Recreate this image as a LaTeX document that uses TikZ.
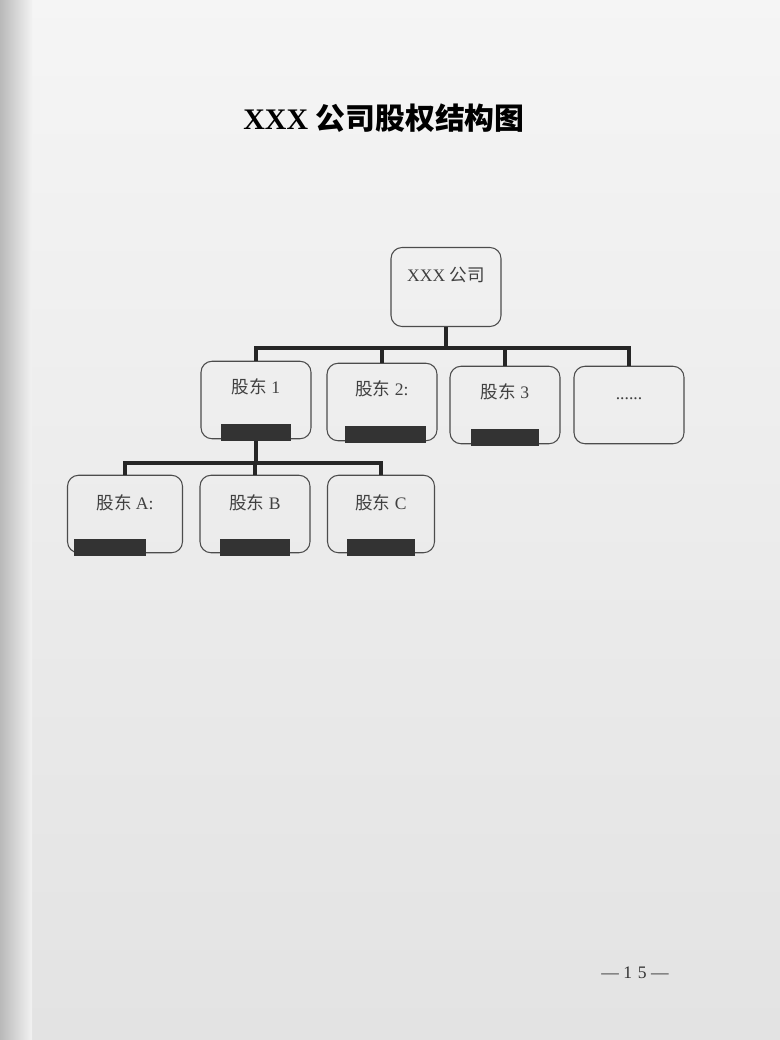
\documentclass[tikz,border=0pt]{standalone}
\usepackage{fontspec}
\setmainfont{Liberation Serif}
\newfontfamily\cjk{Noto Sans CJK SC}
\usetikzlibrary{positioning}

\tikzset{
  holder/.style={draw=gray!60!black, line width=0.6pt, rounded corners=0.22cm,
    minimum width=2.2cm, minimum height=1.55cm},
  holdtext/.style={font=\fontsize{10}{12}\selectfont, text=black!75},
  bar/.style={fill=black!80, inner sep=0pt, minimum height=0.34cm},
  conn/.style={line width=2.2pt, black!85},
}

\begin{document}
\begin{tikzpicture}[x=0.02cm,y=-0.02cm]
    % page
    \fill[top color=gray!8, bottom color=gray!22] (0,0) rectangle (780,1040);
    \fill[left color=gray!55, right color=gray!10] (0,0) rectangle (32,1040);
    \useasboundingbox (0,0) rectangle (780,1040);

    \node[font=\fontsize{17}{20}\selectfont\bfseries] (title) at (384,118)
        {XXX {\cjk\bfseries 公司股权结构图}};

    % company
    \node[holder, minimum height=1.58cm] (co) at (446,287) {};
    \node[holdtext] (cot) at ([yshift=0.25cm]co.center) {XXX {\cjk 公司}};

    % first level
    \node[holder] (s1) at (256,400) {};
    \node[holder] (s2) at (382,402) {};
    \node[holder] (s3) at (505,405) {};
    \node[holder] (s4) at (629,405) {};
    \node[holdtext] (s1t) at ([yshift=0.26cm]s1.center) {{\cjk 股东} 1};
    \node[holdtext] (s2t) at ([yshift=0.26cm]s2.center) {{\cjk 股东} 2:};
    \node[holdtext] (s3t) at ([yshift=0.26cm]s3.center) {{\cjk 股东} 3};
    \node[holdtext] (s4t) at ([yshift=0.12cm]s4.center) {......};
    \node[bar, minimum width=1.42cm, anchor=south] (b1) at ([yshift=-1pt]s1.south) {};
    \node[bar, minimum width=1.62cm, anchor=south] (b2) at ([xshift=0.07cm,yshift=-1pt]s2.south) {};
    \node[bar, minimum width=1.36cm, anchor=south] (b3) at ([yshift=-1pt]s3.south) {};

    % second level
    \node[holder, minimum width=2.3cm] (sA) at (125,514) {};
    \node[holder] (sB) at (255,514) {};
    \node[holder, minimum width=2.14cm] (sC) at (381,514) {};
    \node[holdtext] (sAt) at ([yshift=0.22cm]sA.center) {{\cjk 股东} A:};
    \node[holdtext] (sBt) at ([yshift=0.22cm]sB.center) {{\cjk 股东} B};
    \node[holdtext] (sCt) at ([yshift=0.22cm]sC.center) {{\cjk 股东} C};
    \node[bar, minimum width=1.44cm, anchor=south west] (bA) at ([xshift=0.14cm,yshift=-2pt]sA.south west) {};
    \node[bar, minimum width=1.42cm, anchor=south] (bB) at ([yshift=-2pt]sB.south) {};
    \node[bar, minimum width=1.36cm, anchor=south] (bC) at ([yshift=-2pt]sC.south) {};

    % connectors
    \foreach \n in {s1,s2,s3,s4}
        \draw[conn] (co.south) -- ++(0,21) -| (\n.north);
    \foreach \n in {sA,sB,sC}
        \draw[conn] (b1.south) -- ++(0,22) -| (\n.north);

    \node[font=\fontsize{10}{12}\selectfont, text=black!80] (page) at (635,973) {— 1\,\,5 —};
\end{tikzpicture}
\end{document}
